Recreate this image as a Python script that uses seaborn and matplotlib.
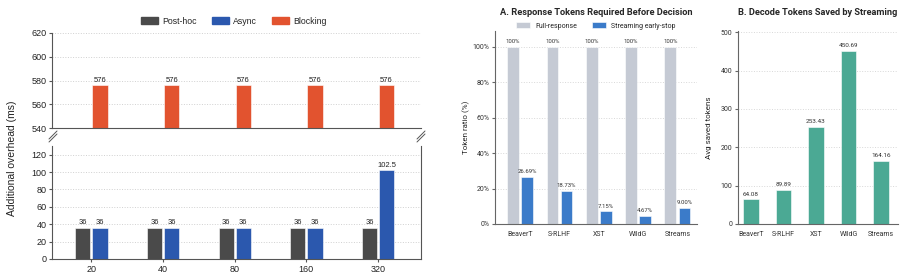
import numpy as np
import pandas as pd
import matplotlib
matplotlib.use("Agg")
import matplotlib.pyplot as plt
from matplotlib.patches import Patch
from matplotlib.lines import Line2D
import seaborn as sns

# left chart: overhead per setting
settings = ["20", "40", "80", "160", "320"]
posthoc_ms = [36, 36, 36, 36, 36]
async_ms = [36, 36, 36, 36, 102.5]
blocking_ms = [576, 576, 576, 576, 576]

# panel A / B
datasets = ["BeaverT", "S-RLHF", "XST", "WildG", "Streams"]
full_ratio = [100, 100, 100, 100, 100]
stream_ratio = [26.69, 18.73, 7.15, 4.67, 9.00]
saved_tokens = [64.08, 89.89, 253.43, 450.69, 164.16]

c_post, c_async, c_block = "#4a4a4a", "#2b58ae", "#e2532f"
c_full, c_stream, c_teal = "#c5cad4", "#3b7bc9", "#4ba994"

sns.set_style("white")
W, H = 908, 272
fig = plt.figure(figsize=(W / 100, H / 100), dpi=100)


def px_axes(left, top, right, bottom):
    return fig.add_axes([left / W, 1 - bottom / H, (right - left) / W, (bottom - top) / H])


ax_top = px_axes(52, 33, 421, 128)
ax_bot = px_axes(52, 146, 421, 259)
ax_a = px_axes(495, 31, 697, 224)
ax_b = px_axes(738, 31, 898, 224)

# ---------------- left broken-axis chart ----------------
lf = "Liberation Sans"
bot_df = pd.DataFrame({
    "setting": settings * 2,
    "ms": posthoc_ms + async_ms,
    "mode": ["Post-hoc"] * 5 + ["Async"] * 5,
})
top_df = pd.DataFrame({
    "setting": settings * 2,
    "ms": posthoc_ms + blocking_ms,
    "mode": ["Post-hoc"] * 5 + ["Blocking"] * 5,
})
sns.barplot(data=bot_df, x="setting", y="ms", hue="mode", hue_order=["Post-hoc", "Async"],
            palette={"Post-hoc": c_post, "Async": c_async}, width=0.48, gap=0.12,
            legend=False, ax=ax_bot, edgecolor="white", linewidth=0.4, saturation=1)
sns.barplot(data=top_df, x="setting", y="ms", hue="mode", hue_order=["Post-hoc", "Blocking"],
            palette={"Post-hoc": c_post, "Blocking": c_block}, width=0.48, gap=0.12,
            legend=False, ax=ax_top, edgecolor="white", linewidth=0.4, saturation=1)

for ax in (ax_top, ax_bot):
    ax.set_xlim(-0.55, 4.6)
    ax.set_xlabel("")
    ax.set_ylabel("")
    ax.yaxis.grid(True, linestyle=":", color="#d0d0d0", linewidth=0.7)
    ax.set_axisbelow(True)
    for s in ax.spines.values():
        s.set_color("#555555")
        s.set_linewidth(0.8)
    ax.spines["top"].set_visible(False)
    ax.tick_params(axis="both", labelsize=6.5, length=2, pad=2, color="#555555", colors="#222222",
                   left=True, bottom=True)

ax_top.set_ylim(540, 620)
ax_top.set_yticks([540, 560, 580, 600, 620])
ax_top.spines["right"].set_visible(False)
ax_top.tick_params(axis="x", bottom=False, labelbottom=False)
ax_bot.set_ylim(0, 130)
ax_bot.set_yticks(range(0, 131, 20))
for ax in (ax_top, ax_bot):
    for t in ax.get_xticklabels() + ax.get_yticklabels():
        t.set_fontfamily(lf)

for cont in ax_bot.containers:
    ax_bot.bar_label(cont, labels=[f"{v:g}" for v in cont.datavalues], fontsize=5.5,
                     padding=1, fontfamily=lf, color="#222222")
ax_top.bar_label(ax_top.containers[1], labels=[f"{v:g}" for v in ax_top.containers[1].datavalues],
                 fontsize=5.5, padding=1, fontfamily=lf, color="#222222")

# break marks
def brk(x, y):
    for dy in (0, 3):
        fig.add_artist(Line2D([(x - 4) / W, (x + 4) / W], [1 - (y + 4 + dy) / H, 1 - (y - 4 + dy) / H],
                              color="#555555", linewidth=0.7))

brk(53, 135)
brk(421, 135)

fig.text(12 / W, 1 - 158 / H, "Additional overhead (ms)", rotation=90, ha="center", va="center",
         fontsize=7.5, fontfamily=lf, color="#222222")
handles = [Patch(color=c_post, label="Post-hoc"), Patch(color=c_async, label="Async"),
           Patch(color=c_block, label="Blocking")]
fig.legend(handles=handles, loc="center", bbox_to_anchor=(234 / W, 1 - 21 / H), ncol=3, frameon=False,
           prop={"family": lf, "size": 6.3}, handlelength=1.95, handleheight=0.75, columnspacing=1.7,
           handletextpad=0.5)

# ---------------- panel A ----------------
rf = "Roboto"
a_df = pd.DataFrame({
    "dataset": datasets * 2,
    "ratio": full_ratio + stream_ratio,
    "kind": ["Full-response"] * 5 + ["Streaming early-stop"] * 5,
})
sns.barplot(data=a_df, x="dataset", y="ratio", hue="kind",
            palette={"Full-response": c_full, "Streaming early-stop": c_stream},
            width=0.72, gap=0.17, ax=ax_a, edgecolor="white", linewidth=0.4, saturation=1)
ax_a.set_xlim(-0.64, 4.5)
ax_a.set_ylim(0, 109)
ax_a.set_yticks(range(0, 101, 20))
ax_a.set_yticklabels([f"{v}%" for v in range(0, 101, 20)])
ax_a.set_ylabel("Token ratio (%)", fontsize=5.8, fontfamily=rf, labelpad=1.5)
ax_a.set_xlabel("")
ax_a.set_title("A. Response Tokens Required Before Decision", fontsize=6.7, fontweight="bold",
               fontfamily=rf, pad=11.5)
for cont, fmt in zip(ax_a.containers, ["{:.0f}%", "{:.2f}%"]):
    ax_a.bar_label(cont, labels=[fmt.format(v) for v in cont.datavalues], fontsize=4.3,
                   padding=2, fontfamily=rf, color="#333333")
ax_a.legend(loc="center", bbox_to_anchor=(0.5, 1 + 5 / 193), ncol=2, frameon=False,
            prop={"family": rf, "size": 5}, handlelength=2.0, handleheight=0.8,
            columnspacing=2.0, handletextpad=0.8, borderaxespad=0)

# ---------------- panel B ----------------
b_df = pd.DataFrame({"dataset": datasets, "saved": saved_tokens})
sns.barplot(data=b_df, x="dataset", y="saved", color=c_teal, width=0.48, ax=ax_b,
            edgecolor="white", linewidth=0.4, saturation=1)
ax_b.set_xlim(-0.4, 4.52)
ax_b.set_ylim(0, 503)
ax_b.set_yticks(range(0, 501, 100))
ax_b.set_ylabel("Avg saved tokens", fontsize=5.8, fontfamily=rf, labelpad=6)
ax_b.set_xlabel("")
ax_b.set_title("B. Decode Tokens Saved by Streaming", fontsize=6.7, fontweight="bold",
               fontfamily=rf, pad=11.5)
ax_b.bar_label(ax_b.containers[0], labels=[f"{v:.2f}" for v in saved_tokens], fontsize=4.6,
               padding=2, fontfamily=rf, color="#333333")

for ax in (ax_a, ax_b):
    ax.yaxis.grid(True, linestyle=":", color="#d8d8d8", linewidth=0.7)
    ax.set_axisbelow(True)
    ax.spines["top"].set_visible(False)
    ax.spines["right"].set_visible(False)
    for s in ("left", "bottom"):
        ax.spines[s].set_color("#666666")
        ax.spines[s].set_linewidth(0.8)
    ax.tick_params(axis="both", labelsize=5, length=2, pad=2, color="#666666", colors="#333333",
                   left=True, bottom=True)
    ax.tick_params(axis="x", bottom=False, pad=3)
    for t in ax.get_xticklabels() + ax.get_yticklabels():
        t.set_fontfamily(rf)

fig.savefig("out.png", dpi=100)
